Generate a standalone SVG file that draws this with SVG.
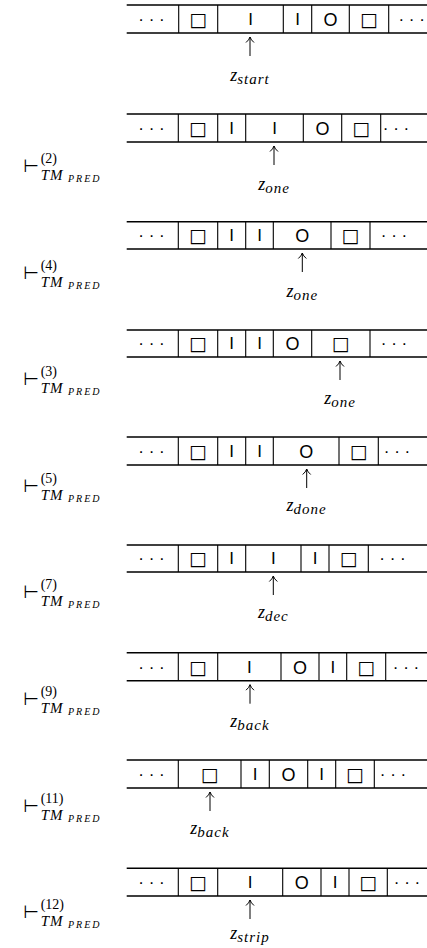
<svg xmlns="http://www.w3.org/2000/svg" width="427" height="948" viewBox="0 0 427 948">
<style>
.h{stroke:#000;stroke-width:1.6;fill:none}
.v{stroke:#000;stroke-width:1.1;fill:none}
.sym{font-family:"Liberation Sans",Arial,sans-serif;font-size:17px;text-anchor:middle;fill:#000}
.o{font-size:18px}
.box{font-family:"DejaVu Sans",sans-serif;font-size:19px;text-anchor:middle;fill:#000}
.dots{font-family:"Liberation Sans",Arial,sans-serif;font-size:17px;text-anchor:middle;fill:#000}
.arr{stroke:#000;stroke-width:1;fill:none}
.st{font-family:"Liberation Serif","Times New Roman",serif;font-style:italic;font-size:18px;text-anchor:middle;fill:#000}
.sub{font-size:15px;letter-spacing:1px}
.tu{font-family:"DejaVu Sans",sans-serif;font-size:18px;fill:#000}
.sup{font-family:"Liberation Serif","Times New Roman",serif;font-size:14px;fill:#000}
.tm{font-family:"Liberation Serif","Times New Roman",serif;font-style:italic;font-size:15px;letter-spacing:1px;fill:#000}
.pr{font-family:"Liberation Serif","Times New Roman",serif;font-style:italic;font-size:10px;letter-spacing:2px;fill:#000}
</style>

<g id="config1">
<path class="h" d="M126.7 5H427M126.7 33H427"/>
<path class="v" d="M178.7 5V33M217.7 5V33M283.3 5V33M311.7 5V33M349.3 5V33M388.7 5V33"/>
<text class="dots" x="151.5" y="25">· · ·</text>
<text class="box" x="198.2" y="26">□</text>
<text class="sym" x="250.5" y="25">I</text>
<text class="sym" x="297.5" y="25">I</text>
<text class="sym o" x="330.5" y="26">O</text>
<text class="box" x="369" y="26">□</text>
<text class="dots" x="411.7" y="25">· · ·</text>
<path class="arr" d="M250 37V56M246 42.5Q249 40 250 37Q251 40 254 42.5"/>
<text class="st" x="250" y="81">z<tspan class="sub" dy="3">start</tspan></text>
</g>

<g id="config2">
<path class="h" d="M126.7 114H427M126.7 142H427"/>
<path class="v" d="M178.3 114V142M217.7 114V142M245.7 114V142M303.3 114V142M341.7 114V142M380.7 114V142"/>
<text class="dots" x="151.5" y="134">· · ·</text>
<text class="box" x="198" y="135">□</text>
<text class="sym" x="231.7" y="134">I</text>
<text class="sym" x="274.5" y="134">I</text>
<text class="sym o" x="322.5" y="135">O</text>
<text class="box" x="361.2" y="135">□</text>
<text class="dots" x="396" y="134">· · ·</text>
<path class="arr" d="M274 146V165M270 151.5Q273 149 274 146Q275 149 278 151.5"/>
<text class="st" x="274" y="190">z<tspan class="sub" dy="3">one</tspan></text>
<text class="tu" x="23" y="172">⊢</text>
<text class="sup" x="40.7" y="163">(2)</text>
<text class="tm" x="40.7" y="180">TM</text>
<text class="pr" x="68" y="182">PRED</text>
</g>

<g id="config3">
<path class="h" d="M126.7 221.7H427M126.7 249H427"/>
<path class="v" d="M178.3 221.7V249M217.7 221.7V249M245.7 221.7V249M273.3 221.7V249M331 221.7V249M370 221.7V249"/>
<text class="dots" x="151.5" y="241">· · ·</text>
<text class="box" x="198" y="242">□</text>
<text class="sym" x="231.7" y="241">I</text>
<text class="sym" x="259.5" y="241">I</text>
<text class="sym o" x="302.2" y="242">O</text>
<text class="box" x="350.5" y="242">□</text>
<text class="dots" x="394" y="241">· · ·</text>
<path class="arr" d="M302.3 253V272M298.3 258.5Q301.3 256 302.3 253Q303.3 256 306.3 258.5"/>
<text class="st" x="302.3" y="297">z<tspan class="sub" dy="3">one</tspan></text>
<text class="tu" x="23" y="278.6">⊢</text>
<text class="sup" x="40.7" y="269.6">(4)</text>
<text class="tm" x="40.7" y="286.6">TM</text>
<text class="pr" x="68" y="288.6">PRED</text>
</g>

<g id="config4">
<path class="h" d="M126.7 330H427M126.7 357H427"/>
<path class="v" d="M178.3 330V357M217.7 330V357M245.7 330V357M273.3 330V357M311.7 330V357M370 330V357"/>
<text class="dots" x="151.5" y="349">· · ·</text>
<text class="box" x="198" y="350">□</text>
<text class="sym" x="231.7" y="349">I</text>
<text class="sym" x="259.5" y="349">I</text>
<text class="sym o" x="292.5" y="350">O</text>
<text class="box" x="340.8" y="350">□</text>
<text class="dots" x="394" y="349">· · ·</text>
<path class="arr" d="M340 361V380M336 366.5Q339 364 340 361Q341 364 344 366.5"/>
<text class="st" x="340" y="404">z<tspan class="sub" dy="3">one</tspan></text>
<text class="tu" x="23" y="385.2">⊢</text>
<text class="sup" x="40.7" y="376.2">(3)</text>
<text class="tm" x="40.7" y="393.2">TM</text>
<text class="pr" x="68" y="395.2">PRED</text>
</g>

<g id="config5">
<path class="h" d="M126.7 437H427M126.7 465H427"/>
<path class="v" d="M178.3 437V465M217.7 437V465M245.7 437V465M273.3 437V465M339 437V465M378.3 437V465"/>
<text class="dots" x="151.5" y="457">· · ·</text>
<text class="box" x="198" y="458">□</text>
<text class="sym" x="231.7" y="457">I</text>
<text class="sym" x="259.5" y="457">I</text>
<text class="sym o" x="306.2" y="458">O</text>
<text class="box" x="358.7" y="458">□</text>
<text class="dots" x="397" y="457">· · ·</text>
<path class="arr" d="M306.7 469V488M302.7 474.5Q305.7 472 306.7 469Q307.7 472 310.7 474.5"/>
<text class="st" x="306.7" y="511">z<tspan class="sub" dy="3">done</tspan></text>
<text class="tu" x="23" y="491.8">⊢</text>
<text class="sup" x="40.7" y="482.8">(5)</text>
<text class="tm" x="40.7" y="499.8">TM</text>
<text class="pr" x="68" y="501.8">PRED</text>
</g>

<g id="config6">
<path class="h" d="M126.7 545H427M126.7 572H427"/>
<path class="v" d="M178.3 545V572M217.7 545V572M245.7 545V572M301 545V572M329 545V572M368.3 545V572"/>
<text class="dots" x="151.5" y="564">· · ·</text>
<text class="box" x="198" y="565">□</text>
<text class="sym" x="231.7" y="564">I</text>
<text class="sym" x="273.3" y="564">I</text>
<text class="sym" x="315" y="564">I</text>
<text class="box" x="348.7" y="565">□</text>
<text class="dots" x="392.5" y="564">· · ·</text>
<path class="arr" d="M273.3 576V595M269.3 581.5Q272.3 579 273.3 576Q274.3 579 277.3 581.5"/>
<text class="st" x="273.3" y="618">z<tspan class="sub" dy="3">dec</tspan></text>
<text class="tu" x="23" y="598.4">⊢</text>
<text class="sup" x="40.7" y="589.4">(7)</text>
<text class="tm" x="40.7" y="606.4">TM</text>
<text class="pr" x="68" y="608.4">PRED</text>
</g>

<g id="config7">
<path class="h" d="M126.7 652.7H427M126.7 680.7H427"/>
<path class="v" d="M178.3 652.7V680.7M217.7 652.7V680.7M281 652.7V680.7M319 652.7V680.7M346.7 652.7V680.7M385.7 652.7V680.7"/>
<text class="dots" x="151.5" y="672.7">· · ·</text>
<text class="box" x="198" y="673.7">□</text>
<text class="sym" x="249.3" y="672.7">I</text>
<text class="sym o" x="300" y="673.7">O</text>
<text class="sym" x="332.8" y="672.7">I</text>
<text class="box" x="366.2" y="673.7">□</text>
<text class="dots" x="406" y="672.7">· · ·</text>
<path class="arr" d="M250 684.7V703.7M246 690.2Q249 687.7 250 684.7Q251 687.7 254 690.2"/>
<text class="st" x="250" y="726.5">z<tspan class="sub" dy="3">back</tspan></text>
<text class="tu" x="23" y="705">⊢</text>
<text class="sup" x="40.7" y="696">(9)</text>
<text class="tm" x="40.7" y="713">TM</text>
<text class="pr" x="68" y="715">PRED</text>
</g>

<g id="config8">
<path class="h" d="M126.7 760H427M126.7 788H427"/>
<path class="v" d="M178.3 760V788M241 760V788M269.3 760V788M307.7 760V788M335.7 760V788M374.3 760V788"/>
<text class="dots" x="151.5" y="780">· · ·</text>
<text class="box" x="209.7" y="781">□</text>
<text class="sym" x="255.2" y="780">I</text>
<text class="sym o" x="288.5" y="781">O</text>
<text class="sym" x="321.7" y="780">I</text>
<text class="box" x="355" y="781">□</text>
<text class="dots" x="393" y="780">· · ·</text>
<path class="arr" d="M210 792V811M206 797.5Q209 795 210 792Q211 795 214 797.5"/>
<text class="st" x="210" y="834">z<tspan class="sub" dy="3">back</tspan></text>
<text class="tu" x="23" y="811.6">⊢</text>
<text class="sup" x="40.7" y="802.6">(11)</text>
<text class="tm" x="40.7" y="819.6">TM</text>
<text class="pr" x="68" y="821.6">PRED</text>
</g>

<g id="config9">
<path class="h" d="M126.7 868.3H427M126.7 896H427"/>
<path class="v" d="M178.3 868.3V896M217.7 868.3V896M282.7 868.3V896M321 868.3V896M349 868.3V896M387.3 868.3V896"/>
<text class="dots" x="151.5" y="888">· · ·</text>
<text class="box" x="198" y="889">□</text>
<text class="sym" x="250.2" y="888">I</text>
<text class="sym o" x="301.8" y="889">O</text>
<text class="sym" x="335" y="888">I</text>
<text class="box" x="368.2" y="889">□</text>
<text class="dots" x="407" y="888">· · ·</text>
<path class="arr" d="M250 900V919M246 905.5Q249 903 250 900Q251 903 254 905.5"/>
<text class="st" x="250" y="939">z<tspan class="sub" dy="3">strip</tspan></text>
<text class="tu" x="23" y="918.2">⊢</text>
<text class="sup" x="40.7" y="909.2">(12)</text>
<text class="tm" x="40.7" y="926.2">TM</text>
<text class="pr" x="68" y="928.2">PRED</text>
</g>
</svg>
